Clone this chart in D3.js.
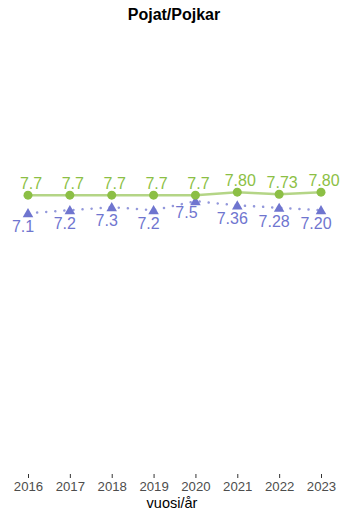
<!DOCTYPE html>
<html>
<head>
<meta charset="utf-8">
<script src="https://cdn.jsdelivr.net/npm/d3@7"></script>
<style>
  body { margin: 0; background: #fff; }
  svg { display: block; font-family: "Liberation Sans", Arial, sans-serif; }
</style>
</head>
<body>
<svg></svg>
<script>
var years = ["2016", "2017", "2018", "2019", "2020", "2021", "2022", "2023"]
var greenValues = [7.7, 7.7, 7.7, 7.7, 7.7, 7.80, 7.73, 7.80]
var greenLabels = ["7.7", "7.7", "7.7", "7.7", "7.7", "7.80", "7.73", "7.80"]
var blueValues = [7.1, 7.2, 7.3, 7.2, 7.5, 7.36, 7.28, 7.20]
var blueLabels = ["7.1", "7.2", "7.3", "7.2", "7.5", "7.36", "7.28", "7.20"]

var screen = {width: 343, height: 511}
var green = "#8cbf45"
var blue = "#6f75cf"

var svg = d3.select("svg")
  .attr("width", screen.width)
  .attr("height", screen.height)

var xScale = d3.scalePoint()
  .domain(years)
  .range([28, 321])

var yScale = d3.scaleLinear()
  .domain([-1.55, 12.7])
  .range([473, 45])

// title
svg.append("text")
  .attr("x", 174)
  .attr("y", 20)
  .attr("text-anchor", "middle")
  .attr("font-size", 16)
  .attr("font-weight", "bold")
  .attr("fill", "#000")
  .text("Pojat/Pojkar")

// x axis, ticks only
var xAxis = d3.axisBottom(xScale).tickSize(4).tickPadding(4)
var gx = svg.append("g")
  .attr("transform", "translate(0,474)")
  .call(xAxis)
gx.select(".domain").remove()
gx.selectAll(".tick line").attr("stroke", "#333").attr("stroke-width", 1)
gx.selectAll(".tick text")
  .attr("fill", "#4d4d4d")
  .attr("font-size", 13.2)
  .attr("font-family", "Liberation Sans, Arial, sans-serif")

svg.append("text")
  .attr("x", 172)
  .attr("y", 508)
  .attr("text-anchor", "middle")
  .attr("font-size", 14.5)
  .attr("fill", "#000")
  .text("vuosi/år")

var line = d3.line()
  .x(function(d, i) { return xScale(years[i]) })
  .y(function(d) { return yScale(d) })

// blue dotted series
svg.append("path")
  .datum(blueValues)
  .attr("d", line)
  .attr("fill", "none")
  .attr("stroke", blue)
  .attr("stroke-opacity", 0.75)
  .attr("stroke-width", 2.5)
  .attr("stroke-linecap", "round")
  .attr("stroke-dasharray", "0.1 9")

// green solid series
svg.append("path")
  .datum(greenValues)
  .attr("d", line)
  .attr("fill", "none")
  .attr("stroke", green)
  .attr("stroke-opacity", 0.65)
  .attr("stroke-width", 2.5)

var tri = d3.symbol().type(d3.symbolTriangle).size(48)

svg.selectAll(".tri")
  .data(blueValues)
  .enter()
  .append("path")
  .attr("class", "tri")
  .attr("d", tri)
  .attr("fill", blue)
  .attr("transform", function(d, i) {
    return "translate(" + xScale(years[i]) + "," + (yScale(d) + 1) + ")"
  })

svg.selectAll(".dot")
  .data(greenValues)
  .enter()
  .append("circle")
  .attr("class", "dot")
  .attr("cx", function(d, i) { return xScale(years[i]) })
  .attr("cy", function(d) { return yScale(d) })
  .attr("r", 4.5)
  .attr("fill", green)

// labels
svg.selectAll(".glab")
  .data(greenLabels)
  .enter()
  .append("text")
  .attr("class", "glab")
  .attr("x", function(d, i) { return xScale(years[i]) + 3 })
  .attr("y", function(d, i) { return yScale(greenValues[i]) - 6 })
  .attr("text-anchor", "middle")
  .attr("font-size", 16)
  .attr("fill", green)
  .text(function(d) { return d })

svg.selectAll(".blab")
  .data(blueLabels)
  .enter()
  .append("text")
  .attr("class", "blab")
  .attr("x", function(d, i) {
    var close = greenValues[i] - blueValues[i] < 0.3
    return xScale(years[i]) - (close ? 9 : 5)
  })
  .attr("y", function(d, i) {
    var close = greenValues[i] - blueValues[i] < 0.3
    return yScale(blueValues[i]) + (close ? 17 : 19)
  })
  .attr("text-anchor", "middle")
  .attr("font-size", 16)
  .attr("fill", blue)
  .text(function(d) { return d })
</script>
</body>
</html>
